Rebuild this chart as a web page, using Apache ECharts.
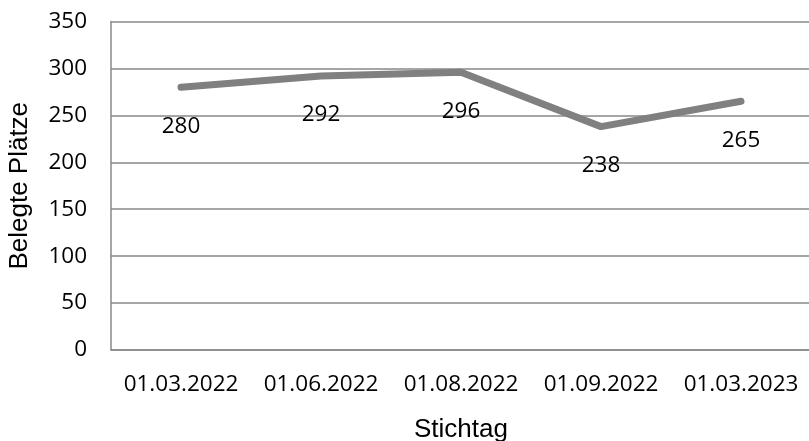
<!DOCTYPE html>
<html>
<head>
<meta charset="utf-8">
<script src="https://cdn.jsdelivr.net/npm/echarts@6/dist/echarts.min.js"></script>
<style>
  html, body { margin: 0; padding: 0; background: #fff; }
  #chart { width: 809px; height: 441px; }
</style>
</head>
<body>
<div id="chart"></div>
<script>
// Stichtage and occupied places per date
const categories = ['01.03.2022', '01.06.2022', '01.08.2022', '01.09.2022', '01.03.2023'];
const occupied = [280, 292, 296, 238, 265];
const yTicks = { min: 0, max: 350, interval: 50 };
const yAxisTitle = 'Belegte Plätze';
const xAxisTitle = 'Stichtag';

const labelFont = '"Open Sans", "Noto Sans", sans-serif';
const titleFont = '"Liberation Sans", Arial, sans-serif';
const gridGray = '#898989';

const chart = echarts.init(document.getElementById('chart'), null, { renderer: 'canvas' });
chart.setOption({
  animation: false,
  backgroundColor: '#ffffff',
  grid: {
    left: 111, top: 21.5, width: 700, bottom: 91,
    containLabel: false,
    outerBoundsMode: 'none'
  },
  xAxis: {
    type: 'category',
    data: categories,
    boundaryGap: true,
    axisLine: { show: true, lineStyle: { color: gridGray, width: 1.5 } },
    axisTick: { show: false },
    axisLabel: {
      interval: 0,
      hideOverlap: false,
      color: '#000',
      fontFamily: labelFont,
      fontSize: 22.5,
      margin: 23
    },
    name: xAxisTitle,
    nameLocation: 'middle',
    nameGap: 67,
    nameTextStyle: { color: '#000', fontFamily: titleFont, fontSize: 26 }
  },
  yAxis: {
    type: 'value',
    min: yTicks.min,
    max: yTicks.max,
    interval: yTicks.interval,
    axisLine: { show: true, lineStyle: { color: gridGray, width: 1.5 } },
    axisTick: { show: false },
    splitLine: { show: true, lineStyle: { color: gridGray, width: 1.5 } },
    axisLabel: { color: '#000', fontFamily: labelFont, fontSize: 22.5, margin: 24 },
    name: yAxisTitle,
    nameLocation: 'middle',
    nameGap: 78,
    nameTextStyle: { color: '#000', fontFamily: titleFont, fontSize: 26 }
  },
  series: [{
    type: 'line',
    data: occupied,
    showSymbol: true,
    symbol: 'circle',
    symbolSize: 1,
    itemStyle: { color: 'rgba(0,0,0,0)', borderWidth: 0 },
    lineStyle: { color: '#808080', width: 7, cap: 'round', join: 'round' },
    label: {
      show: true,
      position: 'bottom',
      distance: 27,
      color: '#000',
      fontFamily: labelFont,
      fontSize: 22.5
    }
  }]
});
</script>
</body>
</html>
